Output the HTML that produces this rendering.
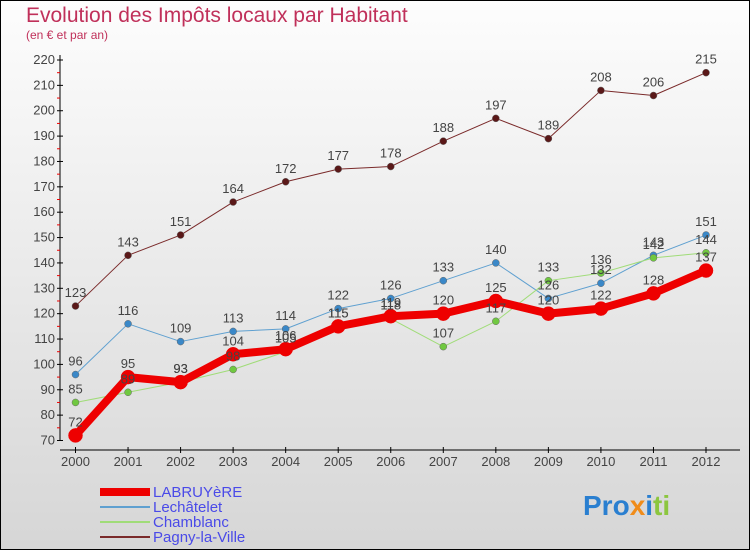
<!DOCTYPE html>
<html><head><meta charset="utf-8"><style>
body{margin:0}
#c{width:750px;height:550px;position:relative;overflow:hidden;font-family:"Liberation Sans",sans-serif}
</style></head><body>
<div id="c">
<svg id="s" width="750" height="550" xmlns="http://www.w3.org/2000/svg">
<defs><linearGradient id="bg" x1="0" y1="0" x2="0" y2="1"><stop offset="0" stop-color="#fdfdfd"/><stop offset="1" stop-color="#d6d6d6"/></linearGradient></defs>
<rect x="0.5" y="0.5" width="749" height="549" fill="url(#bg)" stroke="#000"/>
<text x="26" y="22" font-size="21" fill="#c0305a">Evolution des Impôts locaux par Habitant</text>
<text x="26" y="39" font-size="12" fill="#c0305a">(en € et par an)</text>
<g id="axes"></g><g id="series"></g><g id="legend"></g>
<text x="583" y="515" font-size="28" font-weight="bold"><tspan fill="#2a7fd0">Pro</tspan><tspan fill="#f08c1a">x</tspan><tspan fill="#2a7fd0">i</tspan><tspan fill="#8cc63f">ti</tspan></text>
</svg></div>
<script>
const years=[2000,2001,2002,2003,2004,2005,2006,2007,2008,2009,2010,2011,2012];
const labruyere=[72,95,93,104,106,115,119,120,125,120,122,128,137];
const lechatelet=[96,116,109,113,114,122,126,133,140,126,132,143,151];
const chamblanc=[85,89,93,98,105,115,118,107,117,133,136,142,144];
const pagny=[123,143,151,164,172,177,178,188,197,189,208,206,215];
const yTicks=[70,80,90,100,110,120,130,140,150,160,170,180,190,200,210,220];
const NS="http://www.w3.org/2000/svg";
const X=i=>75.5+i*(706-75.5)/(years.length-1);
const Y=v=>440.5-(v-70)*(440.5-60)/150;
function mk(t,a,p){const e=document.createElementNS(NS,t);for(const k in a)e.setAttribute(k,a[k]);p.appendChild(e);return e;}
const ax=document.getElementById('axes');
let l=mk('line',{x1:60,y1:55,x2:60,y2:441,stroke:'#000'},ax);

l=mk('line',{x1:60,y1:450,x2:740,y2:450,stroke:'#000'},ax);

yTicks.forEach((v,i)=>{
 mk('line',{x1:57,x2:63,y1:Y(v),y2:Y(v),stroke:'#000'},ax);
 if(i<yTicks.length-1)mk('line',{x1:57,x2:60,y1:Y(v+5),y2:Y(v+5),stroke:'#e00'},ax);
 const t=mk('text',{x:55,y:Y(v)+4,'font-size':13,fill:'#444','text-anchor':'end'},ax);t.textContent=v;
 
});
years.forEach((y,i)=>{
 mk('line',{x1:X(i),x2:X(i),y1:447,y2:453,stroke:'#000'},ax);
 const t=mk('text',{x:X(i),y:466,'font-size':13,fill:'#444','text-anchor':'middle'},ax);t.textContent=y;
 
});
const sg=document.getElementById('series');
const defs=[
 {n:'pagny',d:pagny,c:'#7a2a2a',f:'#5a1818',w:1,r:3.5,lab:'Pagny-la-Ville'},
 {n:'lechatelet',d:lechatelet,c:'#5fa0d0',f:'#3a88c8',w:1,r:3.5,lab:'Lechâtelet'},
 {n:'chamblanc',d:chamblanc,c:'#a0dc78',f:'#70c840',w:1,r:3.5,lab:'Chamblanc'},
 {n:'labruyere',d:labruyere,c:'#ee0000',f:'#ee0000',w:8,r:7,lab:'LABRUYèRE'}];
const order=[defs[3],defs[1],defs[2],defs[0]];
defs.forEach(s=>{
 const g=mk('g',{},sg);
 const p=mk('polyline',{points:s.d.map((v,i)=>X(i)+','+Y(v)).join(' '),fill:'none',stroke:s.c,'stroke-width':s.w,'stroke-linejoin':'round'},g);
 
 s.d.forEach((v,i)=>{
  const c=mk('circle',{cx:X(i),cy:Y(v),r:s.r,fill:s.f,stroke:s.n=='labruyere'?'#ee0000':'#666','stroke-width':0.5},g);
  
 });
});
defs.forEach(s=>{s.d.forEach((v,i)=>{
  const t=mk('text',{x:X(i),y:Y(v)-9,'font-size':13,fill:'#444','text-anchor':'middle'},sg);t.textContent=v;
  
});});
const lg=document.getElementById('legend');
order.forEach((s,i)=>{
 const y=492+i*15;
 const g=mk('g',{},lg);
 mk('line',{x1:100,x2:150,y1:y,y2:y,stroke:s.c,'stroke-width':s.n=='labruyere'?8:2},g);
 const t=mk('text',{x:153,y:y+5,'font-size':15,fill:'#4a4ae8'},g);t.textContent=s.lab;
});
</script>
</body></html>
